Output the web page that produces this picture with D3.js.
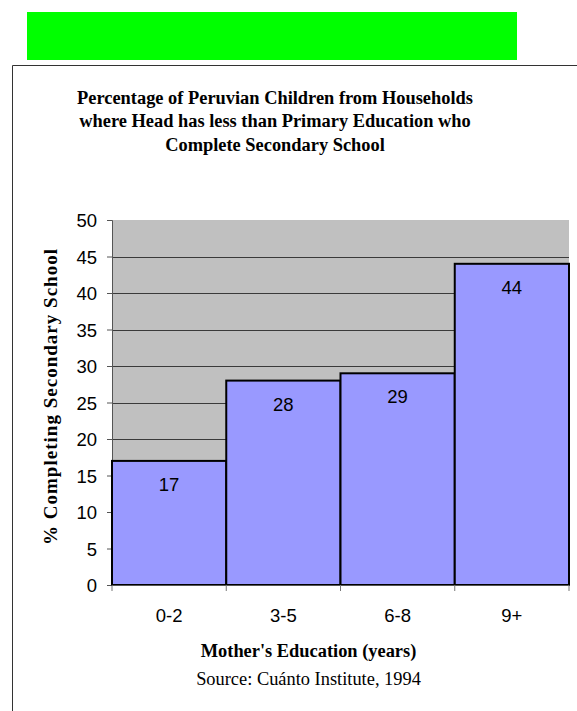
<!DOCTYPE html>
<html><head><meta charset="utf-8">
<script src="https://d3js.org/d3.v7.min.js"></script>
<style>body{margin:0;background:#fff}svg{display:block}
.serif{font-family:"Liberation Serif","Times New Roman",serif;font-size:18.4px}
.sans{font-family:"Liberation Sans",Arial,sans-serif;font-size:18.5px}
</style>
</head><body>
<script>
const categories = ["0-2", "3-5", "6-8", "9+"];
const values = [17, 28, 29, 44];
const yTicks = [0, 5, 10, 15, 20, 25, 30, 35, 40, 45, 50];
const titleLines = ["Percentage of Peruvian Children from Households",
  "where Head has less than Primary Education who",
  "Complete Secondary School"];
const xTitle = "Mother's Education (years)";
const yTitle = "% Completing Secondary School";
const sourceText = "Source: Cuánto Institute, 1994";

const W = 577, H = 711;
const svg = d3.select("body").append("svg").attr("width", W).attr("height", H);

svg.append("rect").attr("x", 27).attr("y", 12).attr("width", 490).attr("height", 48).attr("fill", "#00FF00");
svg.append("path").attr("d", "M12.5,711 V65.5 H577").attr("fill", "none").attr("stroke", "#333").attr("stroke-width", 1);

svg.append("g").selectAll("text").data(titleLines).join("text")
  .attr("class", "serif")
  .attr("x", 275).attr("y", (d, i) => 104 + i * 23.3)
  .attr("text-anchor", "middle")
  .style("font-weight", "bold").attr("fill", "#000")
  .text(d => d);

const m = {l: 112, r: 569, t: 220, b: 585};
const x = d3.scaleBand().domain(categories).range([m.l, m.r]).padding(0);
const y = d3.scaleLinear().domain([0, 50]).range([m.b, m.t]);

svg.append("rect").attr("x", m.l).attr("y", m.t).attr("width", m.r - m.l).attr("height", m.b - m.t).attr("fill", "#C0C0C0");

svg.append("g").selectAll("line").data(yTicks.filter(d => d > 0 && d < 50)).join("line")
  .attr("x1", m.l).attr("x2", m.r)
  .attr("y1", d => Math.round(y(d)) + 0.5).attr("y2", d => Math.round(y(d)) + 0.5)
  .attr("stroke", "#3a3a3a").attr("stroke-width", 1);

const yAxis = d3.axisLeft(y).tickValues(yTicks).tickSize(5).tickPadding(10);
const gy = svg.append("g").attr("transform", `translate(${m.l},0)`).call(yAxis);
gy.attr("font-family", null).attr("font-size", null);
gy.select(".domain").attr("stroke", "#555").attr("d", `M-5,${m.t}.5H0.5V${m.b}`);
gy.selectAll(".tick line").attr("stroke", "#555");
gy.selectAll("text").attr("class", "sans").attr("fill", "#000").attr("dy", "0.36em");

svg.append("g").selectAll("rect").data(values).join("rect")
  .attr("x", (d, i) => x(categories[i]))
  .attr("y", d => y(d))
  .attr("width", x.bandwidth())
  .attr("height", d => y(0) - y(d))
  .attr("fill", "#9999FF").attr("stroke", "#000").attr("stroke-width", 2);

svg.append("g").selectAll("text").data(values).join("text")
  .attr("class", "sans")
  .attr("x", (d, i) => x(categories[i]) + x.bandwidth() / 2)
  .attr("y", d => y(d) + 30)
  .attr("text-anchor", "middle")
  .attr("fill", "#000")
  .text(d => d);

const gx = svg.append("g").attr("transform", `translate(0,${m.b})`);
gx.append("line").attr("x1", m.l).attr("x2", m.r).attr("y1", 0.5).attr("y2", 0.5).attr("stroke", "#555");
const bounds = categories.map(c => x(c)).concat([m.r]);
gx.selectAll("line.t").data(bounds).join("line").attr("class", "t")
  .attr("x1", d => d).attr("x2", d => d).attr("y1", 0).attr("y2", 6).attr("stroke", "#777");
gx.selectAll("text").data(categories).join("text")
  .attr("class", "sans")
  .attr("x", d => x(d) + x.bandwidth() / 2).attr("y", 37)
  .attr("text-anchor", "middle")
  .attr("fill", "#000")
  .text(d => d);

svg.append("text").attr("class", "serif").attr("x", 308.5).attr("y", 657).attr("text-anchor", "middle")
  .style("font-weight", "bold")
  .text(xTitle);
svg.append("text").attr("class", "serif").attr("x", 308.5).attr("y", 685).attr("text-anchor", "middle")
  .text(sourceText);
svg.append("text").attr("class", "serif").attr("transform", "translate(57,397) rotate(-90)").attr("text-anchor", "middle")
  .attr("textLength", 296).attr("lengthAdjust", "spacing")
  .style("font-weight", "bold").style("font-size", "19px")
  .text(yTitle);
</script>
</body></html>
